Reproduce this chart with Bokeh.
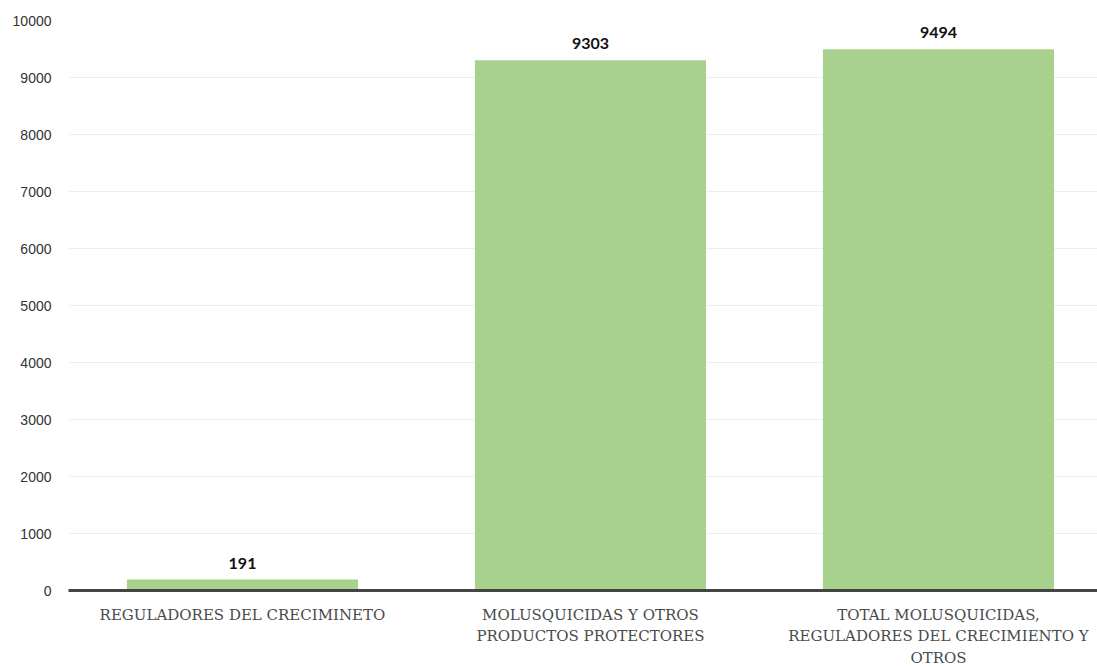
from bokeh.plotting import figure
from bokeh.models import Range1d, FixedTicker, ColumnDataSource
from bokeh.embed import file_html
from bokeh.resources import INLINE
from bokeh.core.properties import value

categories = [
    "REGULADORES DEL CRECIMINETO",
    "MOLUSQUICIDAS Y OTROS\nPRODUCTOS PROTECTORES",
    "TOTAL MOLUSQUICIDAS,\nREGULADORES DEL CRECIMIENTO Y\nOTROS",
]
values = [191, 9303, 9494]
y_ticks = [0, 1000, 2000, 3000, 4000, 5000, 6000, 7000, 8000, 9000, 10000]

xs = [i + 0.5 for i in range(len(categories))]
src = ColumnDataSource(dict(x=xs, top=values, label=[str(v) for v in values]))

p = figure(frame_width=1029, frame_height=570, output_backend="svg", toolbar_location=None,
           x_range=Range1d(0, 2.957), y_range=Range1d(0, 10000),
           min_border_left=68, min_border_right=0, min_border_top=20, min_border_bottom=60)
p.outline_line_color = None
p.background_fill_color = "white"
p.border_fill_color = "white"

p.vbar(x="x", top="top", width=0.664, bottom=0, source=src, color="#a9d18e", line_color=None)
p.text(x="x", y="top", text="label", source=src, y_offset=-11,
       text_align="center", text_baseline="bottom",
       text_font=value("Lato"), text_font_style="bold", text_font_size="16px", text_color="#111111")

p.xgrid.visible = False
p.ygrid.grid_line_color = "#eeeeee"
p.ygrid.ticker = FixedTicker(ticks=y_ticks)

p.yaxis.ticker = FixedTicker(ticks=y_ticks)
p.yaxis.axis_line_color = None
p.yaxis.major_tick_line_color = None
p.yaxis.minor_tick_line_color = None
p.yaxis.major_tick_out = 0
p.yaxis.major_tick_in = 0
p.yaxis.major_label_standoff = 17
p.yaxis.major_label_text_font = "Liberation Sans"
p.yaxis.major_label_text_font_size = "14px"
p.yaxis.major_label_text_color = "#333333"

p.xaxis.ticker = FixedTicker(ticks=xs)
p.xaxis.major_label_overrides = {x: c for x, c in zip(xs, categories)}
p.xaxis.axis_line_color = "#444444"
p.xaxis.axis_line_width = 3
p.xaxis.major_tick_line_color = None
p.xaxis.minor_tick_line_color = None
p.xaxis.major_tick_out = 0
p.xaxis.major_tick_in = 0
p.xaxis.major_label_standoff = 15
p.xaxis.major_label_text_font = "DejaVu Serif"
p.xaxis.major_label_text_font_size = "15px"
p.xaxis.major_label_text_color = "#4a4a4a"
p.xaxis.major_label_text_line_height = 1.22

open("out.html", "w").write(file_html(p, INLINE))
